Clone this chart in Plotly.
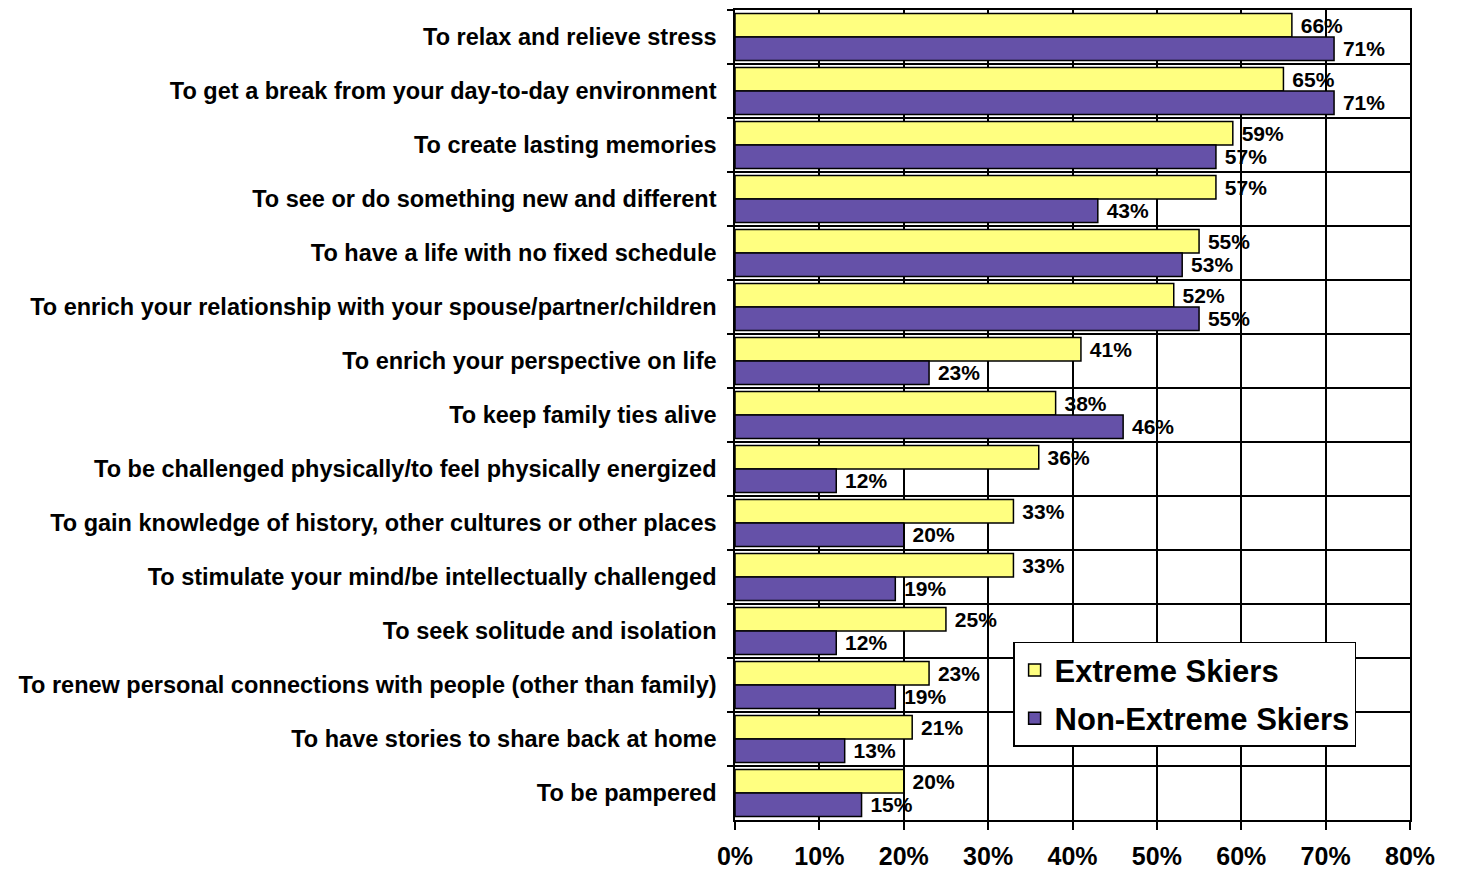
import plotly.graph_objects as go

categories = [
    "To relax and relieve stress",
    "To get a break from your day-to-day environment",
    "To create lasting memories",
    "To see or do something new and different",
    "To have a life with no fixed schedule",
    "To enrich your relationship with your spouse/partner/children",
    "To enrich your perspective on life",
    "To keep family ties alive",
    "To be challenged physically/to feel physically energized",
    "To gain knowledge of history, other cultures or other places",
    "To stimulate your mind/be intellectually challenged",
    "To seek solitude and isolation",
    "To renew personal connections with people (other than family)",
    "To have stories to share back at home",
    "To be pampered",
]
extreme = [66, 65, 59, 57, 55, 52, 41, 38, 36, 33, 33, 25, 23, 21, 20]
non_extreme = [71, 71, 57, 43, 53, 55, 23, 46, 12, 20, 19, 12, 19, 13, 15]
x_ticks = [0, 10, 20, 30, 40, 50, 60, 70, 80]

FONT = "Liberation Sans, Arial, sans-serif"
LABEL_FONT = dict(size=21, color="black", family=FONT, weight="bold")

fig = go.Figure()
fig.add_trace(go.Bar(
    y=categories, x=extreme, orientation="h", name="Extreme Skiers",
    marker=dict(color="#FFFF80", line=dict(color="black", width=1.5)),
    text=[f"\u00a0{v}%" for v in extreme], textposition="outside",
    textfont=LABEL_FONT, cliponaxis=False, legendgroup="a",
))
fig.add_trace(go.Bar(
    y=categories, x=non_extreme, orientation="h", name="Non-Extreme Skiers",
    marker=dict(color="#6551A8", line=dict(color="black", width=1.5)),
    text=[f"\u00a0{v}%" for v in non_extreme], textposition="outside",
    textfont=LABEL_FONT, cliponaxis=False, legendgroup="b",
))

fig.update_layout(
    width=1457, height=869,
    margin=dict(l=735, r=47, t=10, b=49, autoexpand=False),
    paper_bgcolor="white", plot_bgcolor="white",
    font=dict(family=FONT, color="black", weight="bold"),
    barmode="group", bargap=0.13, bargroupgap=0,
    showlegend=True,
    legend=dict(
        x=0.412, y=0.22, xanchor="left", yanchor="top",
        bgcolor="white", bordercolor="black", borderwidth=1.5,
        font=dict(size=31, family=FONT, color="black", weight="bold"),
        traceorder="grouped", tracegroupgap=5,
    ),
    uniformtext=dict(minsize=21, mode="show"),
)
fig.update_xaxes(
    range=[0, 80], tickvals=x_ticks, ticktext=[f"{v}%" for v in x_ticks],
    showgrid=True, gridcolor="black", gridwidth=1.5,
    showline=True, linecolor="black", linewidth=1.5, mirror=True,
    ticks="outside", ticklen=8, tickcolor="black", tickwidth=1.5,
    tickfont=dict(size=25, family=FONT, color="black", weight="bold"),
    ticklabelstandoff=5, zeroline=False, fixedrange=True, automargin=False,
)
fig.update_yaxes(
    autorange="reversed", tickson="boundaries",
    showgrid=True, gridcolor="black", gridwidth=2,
    showline=True, linecolor="black", linewidth=1.5, mirror=True,
    ticks="outside", ticklen=6, tickcolor="black", tickwidth=1.5,
    tickfont=dict(size=23.5, family=FONT, color="black", weight="bold"),
    ticklabelstandoff=12, fixedrange=True, automargin=False,
)

fig.write_html("out.html")
